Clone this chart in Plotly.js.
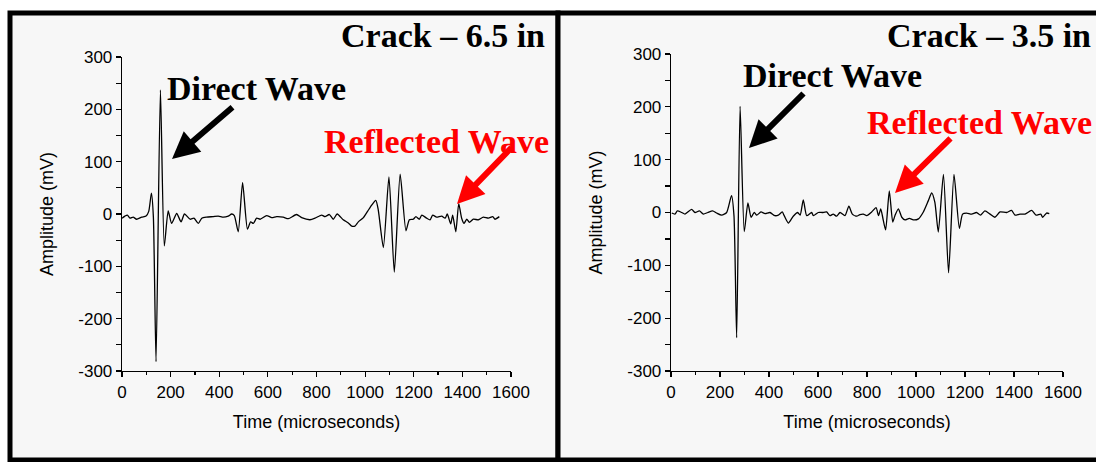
<!DOCTYPE html>
<html>
<head>
<meta charset="utf-8">
<script src="https://cdn.plot.ly/plotly-3.0.1.min.js"></script>
<style>html,body{margin:0;padding:0;background:#fff;}#chart{width:1096px;height:462px;}</style>
</head>
<body>
<div id="chart"></div>
<script>
// ---- Data ----
const panelTitles = ["Crack \u2013 6.5 in", "Crack \u2013 3.5 in"];
const xTitle = "Time (microseconds)";
const yTitle = "Amplitude (mV)";
const xTickVals = [0, 200, 400, 600, 800, 1000, 1200, 1400, 1600];
const xTickText = ["0", "200", "400", "600", "800", "1000", "1200", "1400", "1600"];
const yTickVals = [-300, -200, -100, 0, 100, 200, 300];
const yTickText = ["-300", "-200", "-100", "0", "100", "200", "300"];

const time65 = [0,12,22,33,46,60,81,99,110,121,129,140,158,174,190,204,225,243,257,280,296,314,328,348,375,396,417,437,451,462,478,496,516,529,540,554,568,595,616,636,663,684,718,739,773,794,821,835,853,869,885,910,931,945,958,972,993,1010,1027,1044,1054,1075,1098,1120,1144,1168,1182,1198,1209,1223,1233,1253,1267,1278,1294,1315,1329,1338,1352,1360,1373,1385,1397,1407,1418,1429,1445,1466,1486,1507,1525,1534,1552];
const amp65  = [-8,-4,-2,-8,-6,-10,-6,-4,5,40,-5,-282,237,-61,6,-18,1,-15,0,-10,-8,-18,-8,-6,-5,-4,-6,-4,0,-3,-34,60,-29,-15,-18,-8,-10,-3,-7,-5,-6,-9,-1,-7,-11,-8,-2,-5,-1,-10,0,-11,-17,-23,-23,-15,-7,5,17,26,8,-64,71,-111,76,-32,-11,-10,-5,-10,-2,-8,-11,-2,-6,-4,-8,0,-19,-2,-34,20,-8,-18,-10,-16,-10,-11,-6,-8,-5,-10,-5];

const time35 = [3,16,26,44,57,84,98,116,132,150,170,186,207,227,247,257,268,282,299,314,327,340,350,367,384,404,424,438,454,462,479,499,517,527,540,554,574,581,601,618,635,649,662,676,690,710,726,740,758,771,785,799,819,837,847,856,864,876,891,905,914,928,942,955,973,989,1010,1030,1050,1064,1077,1091,1112,1133,1155,1177,1190,1206,1227,1247,1263,1281,1302,1322,1343,1370,1390,1404,1424,1445,1472,1490,1509,1517,1533,1544];
const amp35  = [-1,-3,3,0,-3,6,0,3,-3,0,3,-1,-5,0,32,-6,-237,201,-36,18,-9,0,-5,1,-2,0,-6,-5,1,-6,-20,-7,0,-5,24,-6,0,-6,0,0,1,-6,-3,-7,0,-6,12,-3,-7,-4,-3,-6,1,9,-6,7,-9,-33,41,-18,-6,7,-9,-14,-11,-14,-12,1,22,37,19,-37,72,-114,72,-30,-3,-1,-3,0,-5,3,-3,-9,1,0,4,-5,-3,-3,4,-5,-3,-9,-1,-2];

const labelDirect = "Direct Wave";
const labelReflected = "Reflected Wave";

// ---- Layout helpers (pixel -> paper) ----
const W = 1096, H = 462;
const px = v => v / W;
const py = v => 1 - v / H;

const lineStyle = {color: '#000', width: 1.3, shape: 'spline', smoothing: 0.6};
const traces = [
  {x: time65, y: amp65, type: 'scatter', mode: 'lines', line: lineStyle, xaxis: 'x', yaxis: 'y', hoverinfo: 'skip'},
  {x: time35, y: amp35, type: 'scatter', mode: 'lines', line: lineStyle, xaxis: 'x2', yaxis: 'y2', hoverinfo: 'skip'}
];

const tickFont = {family: 'Liberation Sans, Arial, sans-serif', size: 17, color: '#000'};
const titleFont = {family: 'Liberation Sans, Arial, sans-serif', size: 18, color: '#000'};

function xax(domain, anchor) {
  return {
    domain: domain, anchor: anchor, range: [0, 1600],
    tickmode: 'array', tickvals: xTickVals, ticktext: xTickText,
    showline: true, linecolor: '#000', linewidth: 1.3, mirror: false,
    showgrid: false, zeroline: false, ticks: 'outside', ticklen: 5, tickwidth: 1.2, tickcolor: '#000',
    minor: {ticks: 'outside', ticklen: 3, dtick: 100, tick0: 0, tickwidth: 1.2, tickcolor: '#000', showgrid: false},
    tickfont: tickFont, fixedrange: true,
    title: {text: xTitle, font: titleFont, standoff: 14}
  };
}
function yax(domain, anchor) {
  return {
    domain: domain, anchor: anchor, range: [-300, 300],
    tickmode: 'array', tickvals: yTickVals, ticktext: yTickText,
    showline: true, linecolor: '#000', linewidth: 1.3, mirror: false,
    showgrid: false, zeroline: false, ticks: 'outside', ticklen: 5, tickwidth: 1.2, tickcolor: '#000',
    minor: {ticks: 'outside', ticklen: 5, dtick: 50, tick0: 0, tickwidth: 1.2, tickcolor: '#000', showgrid: false},
    tickfont: tickFont, fixedrange: true,
    title: {text: yTitle, font: titleFont, standoff: 20}
  };
}

const serifBold = (size, color) => ({family: 'Liberation Serif, Times New Roman, serif', size: size, color: color});

function label(text, x, y, xanchor, color) {
  return {text: '<b>' + text + '</b>', xref: 'paper', yref: 'paper', x: px(x), y: py(y),
    xanchor: xanchor, yanchor: 'middle', showarrow: false, font: serifBold(34, color)};
}
function arrow(hx, hy, tx, ty, color) {
  return {text: '', xref: 'paper', yref: 'paper', x: px(hx), y: py(hy),
    ax: tx - hx, ay: ty - hy, showarrow: true, arrowhead: 2, arrowsize: 0.9,
    arrowwidth: 6, arrowcolor: color, standoff: 0};
}

const annotations = [
  label(panelTitles[0], 547, 35, 'right', '#000'),
  label(panelTitles[1], 1093, 35, 'right', '#000'),
  label(labelDirect, 165, 88, 'left', '#000'),
  label(labelDirect, 741, 75, 'left', '#000'),
  label(labelReflected, 322, 141, 'left', '#ff0000'),
  label(labelReflected, 1094, 123, 'right', '#ff0000'),
  arrow(172, 159, 234, 106, '#000'),
  arrow(457, 204, 513, 146, '#ff0000'),
  arrow(749, 148, 805, 92, '#000'),
  arrow(895, 193, 952, 137, '#ff0000')
];

const shapes = [
  {type: 'rect', xref: 'paper', yref: 'paper', x0: px(10), x1: px(558), y0: py(460), y1: py(13),
    fillcolor: '#f7f7f7', line: {color: '#000', width: 5}, layer: 'below'},
  {type: 'rect', xref: 'paper', yref: 'paper', x0: px(558), x1: px(1110), y0: py(460), y1: py(13),
    fillcolor: '#f7f7f7', line: {color: '#000', width: 5}, layer: 'below'}
];

const layout = {
  width: W, height: H,
  margin: {l: 0, r: 0, t: 0, b: 0, pad: 0},
  paper_bgcolor: '#ffffff', plot_bgcolor: 'rgba(0,0,0,0)',
  showlegend: false,
  xaxis: xax([px(122), px(511)], 'y'),
  yaxis: yax([py(371), py(57)], 'x'),
  xaxis2: xax([px(671), px(1063)], 'y2'),
  yaxis2: yax([py(371), py(54)], 'x2'),
  shapes: shapes,
  annotations: annotations
};

Plotly.newPlot('chart', traces, layout, {displayModeBar: false, staticPlot: true});
</script>
</body>
</html>
